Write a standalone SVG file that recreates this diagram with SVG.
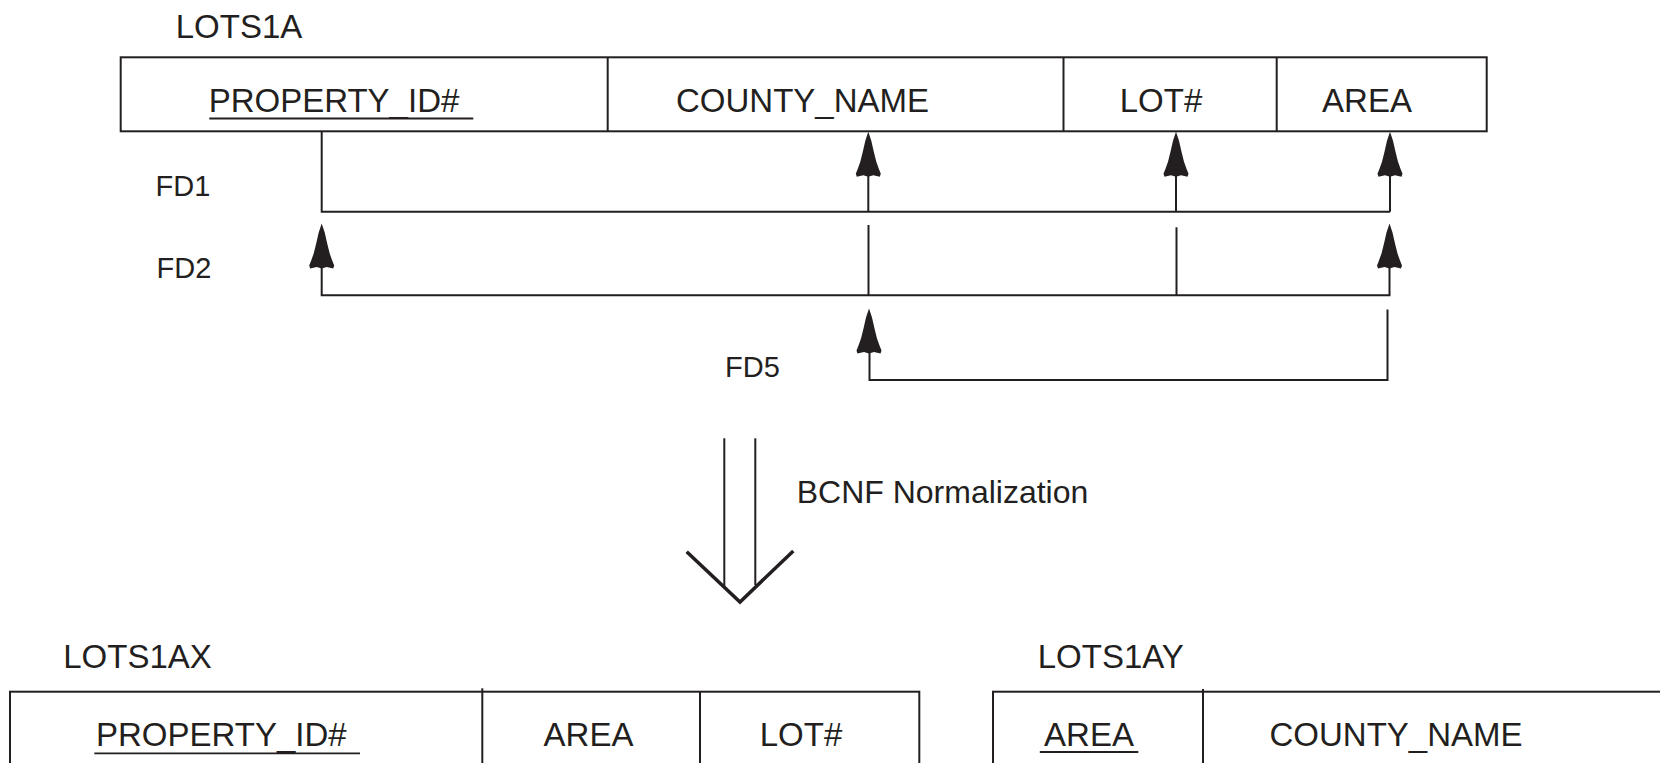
<svg xmlns="http://www.w3.org/2000/svg" xmlns:xlink="http://www.w3.org/1999/xlink" width="1660" height="763" viewBox="0 0 1660 763">
  <style>
    text { font-family: "Liberation Sans", Arial, sans-serif; fill: #231f20; }
    .t { font-size: 33px; text-anchor: middle; }
    .fd { font-size: 29px; text-anchor: middle; }
    .box { fill: none; stroke: #231f20; stroke-width: 2; }
    .ln { fill: none; stroke: #231f20; stroke-width: 2; }
    .ul { fill: none; stroke: #231f20; stroke-width: 1.8; }
    .big { fill: none; stroke: #231f20; stroke-width: 2; }
    .vee { fill: none; stroke: #231f20; stroke-width: 3.5; stroke-linejoin: miter; }
  </style>
  <defs>
    <path id="ah" d="M0,0 L3,9 L5.5,20 L8,30 L10.5,37 L12.5,42 L11.5,45 L5,43.5 L0,45 L-5,43.5 L-11.5,45 L-12.5,42 L-10.5,37 L-8,30 L-5.5,20 L-3,9 Z" fill="#231f20"/>
  </defs>
  <rect width="1660" height="763" fill="#ffffff"/>

  <!-- LOTS1A -->
  <g id="lots1a">
    <text class="t" x="239" y="37.5">LOTS1A</text>
    <rect class="box" x="120.7" y="57.3" width="1366" height="74"/>
    <line class="box" x1="607.7" y1="57.3" x2="607.7" y2="131.3"/>
    <line class="box" x1="1063.5" y1="57.3" x2="1063.5" y2="131.3"/>
    <line class="box" x1="1276.7" y1="57.3" x2="1276.7" y2="131.3"/>
    <text class="t" x="334" y="112.3">PROPERTY_ID#</text>
    <line class="ul" x1="209.3" y1="118.5" x2="473.3" y2="118.5"/>
    <text class="t" x="802.5" y="112.3">COUNTY_NAME</text>
    <text class="t" x="1161" y="112.3">LOT#</text>
    <text class="t" x="1367" y="112.3">AREA</text>
  </g>

  <!-- FD labels -->
  <g id="fd-labels">
    <text class="fd" x="183" y="196">FD1</text>
    <text class="fd" x="184" y="277.7">FD2</text>
    <text class="fd" x="752.4" y="377.3">FD5</text>
  </g>

  <!-- Connectors -->
  <g id="connectors">
    <!-- FD1 -->
    <polyline class="ln" points="321.7,131.3 321.7,211.7 1390,211.7"/>
    <line class="ln" x1="868.3" y1="160" x2="868.3" y2="211.7"/>
    <line class="ln" x1="1176" y1="160" x2="1176" y2="211.7"/>
    <line class="ln" x1="1390" y1="160" x2="1390" y2="211.7"/>
    <use xlink:href="#ah" x="868.3" y="131.7"/>
    <use xlink:href="#ah" x="1176" y="131.7"/>
    <use xlink:href="#ah" x="1390" y="131.7"/>
    <!-- FD2 -->
    <polyline class="ln" points="321.7,250 321.7,295.3 1389.5,295.3 1389.5,250"/>
    <line class="ln" x1="868.5" y1="225" x2="868.5" y2="295.3"/>
    <line class="ln" x1="1176.5" y1="227.3" x2="1176.5" y2="295.3"/>
    <use xlink:href="#ah" x="321.7" y="223.5"/>
    <use xlink:href="#ah" x="1389.5" y="223.5"/>
    <!-- FD5 -->
    <polyline class="ln" points="869.5,340 869.5,380 1387.5,380 1387.5,309.5"/>
    <use xlink:href="#ah" x="869" y="308.5"/>
  </g>

  <!-- BCNF Normalization arrow -->
  <g id="bcnf-arrow">
    <line class="big" x1="724.3" y1="438.3" x2="724.3" y2="587"/>
    <line class="big" x1="755.3" y1="438.3" x2="755.3" y2="585"/>
    <polyline class="vee" points="686.7,551.7 740,602 793.3,551"/>
    <text x="942.5" y="503.3" style="font-size:32px;text-anchor:middle">BCNF Normalization</text>
  </g>

  <!-- LOTS1AX -->
  <g id="lots1ax">
    <text class="t" x="137.5" y="668.3">LOTS1AX</text>
    <rect class="box" x="10" y="691.7" width="909.3" height="100"/>
    <line class="box" x1="482.3" y1="688.3" x2="482.3" y2="791.7"/>
    <line class="box" x1="700" y1="691.7" x2="700" y2="791.7"/>
    <text class="t" x="221.3" y="746">PROPERTY_ID#</text>
    <line class="ul" x1="94.3" y1="753.3" x2="360" y2="753.3"/>
    <text class="t" x="588.5" y="746">AREA</text>
    <text class="t" x="801" y="746">LOT#</text>
  </g>

  <!-- LOTS1AY -->
  <g id="lots1ay">
    <text class="t" x="1110.8" y="668.3">LOTS1AY</text>
    <rect class="box" x="993" y="691.7" width="720" height="100"/>
    <line class="box" x1="1203" y1="689" x2="1203" y2="791.7"/>
    <text class="t" x="1089" y="746">AREA</text>
    <line class="ul" x1="1039.8" y1="752" x2="1138.3" y2="752"/>
    <text class="t" x="1396" y="746">COUNTY_NAME</text>
  </g>
</svg>
